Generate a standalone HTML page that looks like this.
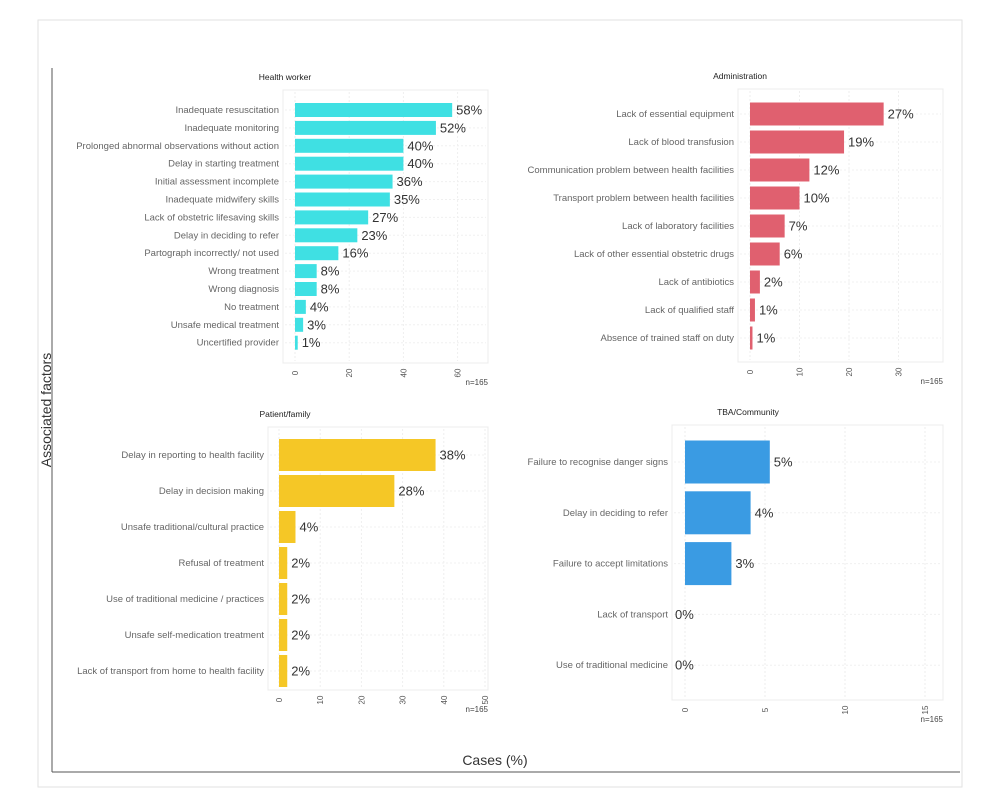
<!DOCTYPE html>
<html><head><meta charset="utf-8"><style>
body{margin:0;background:#fff;}
svg{display:block;font-family:"Liberation Sans",sans-serif;}
</style></head><body>
<svg id="chart" width="1000" height="803" viewBox="0 0 1000 803">
<rect x="38" y="20" width="924" height="767" fill="#fff" stroke="#e2e2e2"/>
<line x1="52" y1="68" x2="52" y2="772" stroke="#555" stroke-width="1"/>
<line x1="52" y1="772" x2="960" y2="772" stroke="#555" stroke-width="1"/>
<text x="495" y="765" font-size="14" text-anchor="middle" fill="#333">Cases (%)</text>
<text x="0" y="0" font-size="14" text-anchor="middle" fill="#333" transform="translate(51,410) rotate(-90)">Associated factors</text>
</svg>
<script>
const hwCats=["Inadequate resuscitation","Inadequate monitoring","Prolonged abnormal observations without action","Delay in starting treatment","Initial assessment incomplete","Inadequate midwifery skills","Lack of obstetric lifesaving skills","Delay in deciding to refer","Partograph incorrectly/ not used","Wrong treatment","Wrong diagnosis","No treatment","Unsafe medical treatment","Uncertified provider"];
const hwVals=[58,52,40,40,36,35,27,23,16,8,8,4,3,1];
const hwTicks=[0,20,40,60];
const adCats=["Lack of essential equipment","Lack of blood transfusion","Communication problem between health facilities","Transport problem between health facilities","Lack of laboratory facilities","Lack of other essential obstetric drugs","Lack of antibiotics","Lack of qualified staff","Absence of trained staff on duty"];
const adVals=[27,19,12,10,7,6,2,1,0.5];
const adLabels=["27%","19%","12%","10%","7%","6%","2%","1%","1%"];
const adTicks=[0,10,20,30];
const pfCats=["Delay in reporting to health facility","Delay in decision making","Unsafe traditional/cultural practice","Refusal of treatment","Use of traditional medicine / practices","Unsafe self-medication treatment","Lack of transport from home to health facility"];
const pfVals=[38,28,4,2,2,2,2];
const pfTicks=[0,10,20,30,40,50];
const tbCats=["Failure to recognise danger signs","Delay in deciding to refer","Failure to accept limitations","Lack of transport","Use of traditional medicine"];
const tbVals=[5.3,4.1,2.9,0,0];
const tbLabels=["5%","4%","3%","0%","0%"];
const tbTicks=[0,5,10,15];

const svg=document.getElementById('chart');
const NS='http://www.w3.org/2000/svg';
function mk(tag,attrs,parent){const e=document.createElementNS(NS,tag);for(const k in attrs)e.setAttribute(k,attrs[k]);(parent||svg).appendChild(e);return e;}

function panel(o){
  const g=mk('g',{});
  
  
  const xs=v=>o.x0+v*o.k;
  const ys=i=>o.yFirst+i*o.step;
  const pr=mk('rect',{x:o.px,y:o.py,width:o.pw,height:o.ph,fill:'#fff',stroke:'#ececec'},g);
  
  
  const t=mk('text',{x:o.tx,y:o.py-10,'font-size':8.5,'text-anchor':'middle',fill:'#222'},g);
  t.textContent=o.title;
  
  
  o.ticks.forEach(v=>{
    const gl=mk('line',{x1:xs(v),x2:xs(v),y1:o.py+2,y2:o.py+o.ph-2,stroke:'#eeeeee','stroke-dasharray':'2,2'},g);
    
    
    const tl=mk('text',{x:0,y:0,'font-size':8,fill:'#555','text-anchor':'middle',transform:`translate(${xs(v)+3},${o.py+o.ph+10}) rotate(-90)`},g);
    tl.textContent=v;
    
    
  });
  o.cats.forEach((c,i)=>{
    const y=ys(i);
    const gl=mk('line',{x1:o.px+2,x2:o.px+o.pw-2,y1:y,y2:y,stroke:'#f0f0f0','stroke-dasharray':'2,2'},g);
    
    
    const w=Math.max(0,xs(o.vals[i])-o.x0);
    if(w>0){
      const r=mk('rect',{x:o.x0,y:y-o.bh/2,width:w,height:o.bh,fill:o.color},g);
      
      
    }
    const cl=mk('text',{x:o.px-4,y:y+3,'font-size':9.5,'text-anchor':'end',fill:'#666'},g);
    cl.textContent=c;
    
    
    const vl=mk('text',{x:o.x0+w+(w>0?4:-10),y:y+4.5,'font-size':13,fill:'#333'},g);
    vl.textContent=o.labels?o.labels[i]:o.vals[i]+'%';
    
    
  });
  const n=mk('text',{x:o.px+o.pw,y:o.py+o.ph+22,'font-size':8,'text-anchor':'end',fill:'#444'},g);
  n.textContent='n=165';
  
  
}
panel({name:'health-worker',title:'Health worker',cats:hwCats,vals:hwVals,ticks:hwTicks,color:'#3fe0e3',
  px:283,py:90,pw:205,ph:273,tx:285,x0:295,k:2.71,yFirst:110,step:17.9,bh:14});
panel({name:'administration',title:'Administration',cats:adCats,vals:adVals,labels:adLabels,ticks:adTicks,color:'#e0606f',
  px:738,py:89,pw:205,ph:273,tx:740,x0:750,k:4.95,yFirst:114,step:28,bh:23});
panel({name:'patient-family',title:'Patient/family',cats:pfCats,vals:pfVals,ticks:pfTicks,color:'#f5c726',
  px:268,py:427,pw:220,ph:263,tx:285,x0:279,k:4.12,yFirst:455,step:36,bh:32});
panel({name:'tba-community',title:'TBA/Community',cats:tbCats,vals:tbVals,labels:tbLabels,ticks:tbTicks,color:'#3a9be3',
  px:672,py:425,pw:271,ph:275,tx:748,x0:685,k:16,yFirst:462,step:50.8,bh:43});
</script>
</body></html>
